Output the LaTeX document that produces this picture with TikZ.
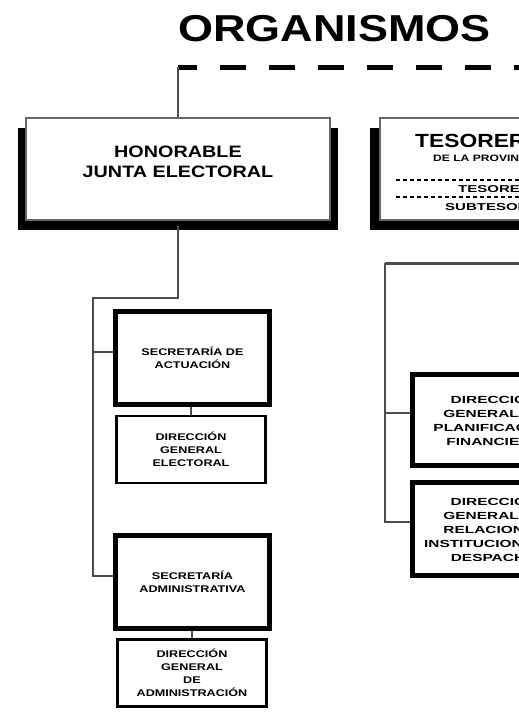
\documentclass[tikz,border=0pt]{standalone}
\usepackage{fontspec}
\setmainfont{Liberation Sans}[FakeStretch=1.2]
\newfontfamily\chica{Liberation Sans}[FakeStretch=1.3]
\newfontfamily\ancha{Liberation Sans}[FakeStretch=1.5]
\usetikzlibrary{positioning}

\begin{document}
\begin{tikzpicture}[x=1pt,y=-1pt,
    conn/.style={line width=2pt,black!70},
    secre/.style={draw,line width=5pt,minimum width=154pt,minimum height=93pt,
      align=center,inner sep=0pt,font=\chica\bfseries\fontsize{9.7}{13.5}\selectfont},
    direc/.style={draw,line width=2.5pt,minimum width=149pt,minimum height=67pt,
      align=center,inner sep=0pt,font=\chica\bfseries\fontsize{9.7}{13}\selectfont},
    dirder/.style={secre,minimum width=163pt,font=\ancha\bfseries\fontsize{10.3}{14}\selectfont},
    jefe/.style={draw=black!60,line width=1.5pt,fill=white,minimum width=304pt,
      minimum height=102pt,inner sep=0pt},
    letra/.style={inner sep=0pt,anchor=west,font=\ancha\bfseries\fontsize{#1}{#1}\selectfont}]
  \useasboundingbox (0,0) rectangle (519,712);
  \clip (0,0) rectangle (519,712);

  \node[font=\bfseries\fontsize{37.5}{40}\selectfont] (titulo) at (334.5,28.5) {ORGANISMOS};

  % cajas de arriba, con sombra
  \fill (18,128) rectangle (338,230);
  \node[jefe] (honorable) at (178,169) {};
  \node[align=center,font=\bfseries\fontsize{16.5}{20}\selectfont] (honorabletxt) at (178,162) {HONORABLE\\JUNTA ELECTORAL};

  \fill (370,128) rectangle (694,230);
  \node[jefe] (tesoreria) at (532,169) {};
  \node[inner sep=0pt,anchor=west,font=\bfseries\fontsize{19}{19}\selectfont] (tesotxt) at (415,139) {TESORERÍA};
  \node[inner sep=0pt,anchor=west,font=\chica\bfseries\fontsize{9.3}{9.3}\selectfont] (provtxt) at (433,158) {DE LA PROVINCIA};
  \draw[line width=1.2pt,dash pattern=on 4pt off 3pt] (396,180) -- (668,180);
  \node[letra=10] (tesorero) at (458,189) {TESORERO};
  \draw[line width=1.2pt,dash pattern=on 4pt off 3pt] (396,197) -- (668,197);
  \node[letra=10] (subteso) at (445,207) {SUBTESORERO};

  \coordinate (esquina) at (178,67);
  \coordinate (finlinea) at (530,67);
  \draw[line width=5pt,dash pattern=on 26pt off 23pt,dash phase=7pt] (esquina) -- (finlinea);
  \draw[conn] (esquina) -- (honorable.north);

  % rama izquierda
  \node[secre] (actuacion) at (192.5,357.5) {SECRETARÍA DE\\ACTUACIÓN};
  \node[direc] (electoral) at (191,449.5) {DIRECCIÓN\\GENERAL\\ELECTORAL};
  \node[secre] (administrativa) at (192.5,581.5) {SECRETARÍA\\ADMINISTRATIVA};
  \node[direc] (administracion) at (192,673) {DIRECCIÓN\\GENERAL\\DE\\ADMINISTRACIÓN};

  \coordinate (codo) at (93,298);
  \coordinate (r1) at ([yshift=6pt]actuacion.west);
  \coordinate (r2) at ([yshift=6pt]administrativa.west);
  \draw[conn] ([yshift=-5pt]honorable.south) |- (codo) |- (r2);
  \draw[conn] (codo |- r1) -- (r1);
  \draw[conn] (electoral.north) -- (electoral.north |- actuacion.south);
  \draw[conn] (administracion.north) -- (administracion.north |- administrativa.south);

  % rama derecha
  \node[dirder,minimum height=91pt] (planif) at (494,420) {DIRECCIÓN\\GENERAL DE\\PLANIFICACIÓN\\FINANCIERA};
  \node[dirder] (relac) at (494,529) {DIRECCIÓN\\GENERAL DE\\RELACIONES\\INSTITUCIONALES\\DESPACHO};

  \coordinate (codod) at (385,263);
  \coordinate (finrama) at (530,263);
  \coordinate (r3) at ([yshift=7pt]planif.west);
  \coordinate (r4) at ([yshift=7pt]relac.west);
  \draw[conn,line width=3pt] (finrama) -- (codod);
  \draw[conn] (codod) |- (r4);
  \draw[conn] (codod |- r3) -- (r3);
\end{tikzpicture}
\end{document}
